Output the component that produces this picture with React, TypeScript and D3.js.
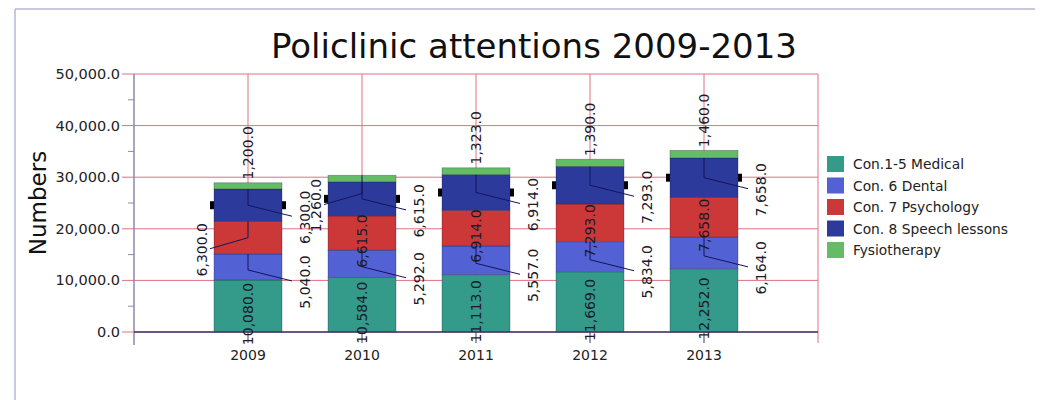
import React from 'react';
import * as d3 from 'd3';

const years = ['2009', '2010', '2011', '2012', '2013'];
const seriesNames = ['Con.1-5 Medical', 'Con. 6 Dental', 'Con. 7 Psychology', 'Con. 8 Speech lessons', 'Fysiotherapy'];
const medical = [10080, 10584, 11113, 11669, 12252];
const dental = [5040, 5292, 5557, 5834, 6164];
const psychology = [6300, 6615, 6914, 7293, 7658];
const speech = [6300, 6615, 6914, 7293, 7658];
const fysio = [1200, 1260, 1323, 1390, 1460];
const yTicks = [0, 10000, 20000, 30000, 40000, 50000];
const yMinorTicks = [5000, 15000, 25000, 35000, 45000];
const colors = ['#349a8a', '#5262d4', '#cc3838', '#2c3a9c', '#64bc64'];

// label placement per year, per series (bottom -> top)
const labelSides = [
  ['center', 'right', 'left', 'right', 'top'],
  ['center', 'right', 'center', 'right', 'left'],
  ['center', 'right', 'center', 'right', 'top'],
  ['center', 'right', 'center', 'right', 'top'],
  ['center', 'right', 'center', 'right', 'top'],
];
const kneeShift = [
  [0, 3, 0, 0, 0],
  [0, 3, 0, 0, 15],
  [0, 3, 0, 0, 0],
  [0, 3, 0, 0, 0],
  [0, 3, 0, 0, 0],
];

const series = [medical, dental, psychology, speech, fysio];

export default function App() {
  const W = 1045, H = 400;
  const left = 134, right = 818, top = 74, bottom = 332;
  const x = d3.scaleLinear().domain([0, years.length + 1]).range([left, right]);
  const y = d3.scaleLinear().domain([0, 50000]).range([bottom, top]);
  const barW = 68;
  const fmt = d3.format(',.1f');
  const font = 'DejaVu Sans, Verdana, sans-serif';
  const grid = '#e07080';
  const axisCol = '#8a8aac';
  const leader = '#14145a';

  const table = years.map((yr, i) => {
    const obj: any = { year: yr };
    seriesNames.forEach((s, j) => (obj[s] = series[j][i]));
    return obj;
  });
  const stacked = d3.stack().keys(seriesNames)(table);

  const elems: any[] = [];
  const labels: any[] = [];
  const markers: any[] = [];

  years.forEach((yr, i) => {
    const cx = x(i + 1);
    const barTop = y(stacked[stacked.length - 1][i][1]);
    stacked.forEach((layer, j) => {
      const d = layer[i];
      const y0 = y(d[0]);
      const y1 = y(d[1]);
      elems.push(
        <rect key={`b${i}-${j}`} x={cx - barW / 2} y={y1} width={barW} height={y0 - y1}
          fill={colors[j]} stroke="rgba(20,20,60,0.35)" strokeWidth={0.8} />
      );
      const mid = (y0 + y1) / 2;
      const side = labelSides[i][j];
      const text = fmt(d[1] - d[0]);
      if (side === 'center') {
        labels.push(
          <text key={`l${i}-${j}`} transform={`translate(${cx},${mid + 8}) rotate(-90)`}
            textAnchor="middle" dominantBaseline="central" fontSize={14} fill="#1a1a2a" fontFamily={font}>{text}</text>
        );
      } else if (side === 'top') {
        labels.push(
          <text key={`l${i}-${j}`} transform={`translate(${cx},${barTop - 30}) rotate(-90)`}
            textAnchor="middle" dominantBaseline="central" fontSize={14} fill="#1a1a2a" fontFamily={font}>{text}</text>
        );
      } else {
        const knee = mid + kneeShift[i][j];
        const dir = side === 'right' ? 1 : -1;
        const ex = cx + dir * (side === 'right' ? 44 : 38);
        const ey = knee + 11;
        elems.push(
          <polyline key={`k${i}-${j}`} points={`${cx},${y1} ${cx},${knee} ${ex},${ey}`}
            fill="none" stroke={leader} strokeWidth={1} />
        );
        labels.push(
          <text key={`l${i}-${j}`} transform={`translate(${cx + dir * (side === 'right' ? 57 : 46)},${knee + 12}) rotate(-90)`}
            textAnchor="middle" dominantBaseline="central" fontSize={14} fill="#1a1a2a" fontFamily={font}>{text}</text>
        );
      }
    });
    const sp = stacked[3][i];
    const sm = (y(sp[0]) + y(sp[1])) / 2;
    markers.push(<rect key={`ml${i}`} x={cx - barW / 2 - 4} y={sm - 4} width={4} height={8} fill="#000" />);
    markers.push(<rect key={`mr${i}`} x={cx + barW / 2} y={sm - 4} width={4} height={8} fill="#000" />);
  });

  return (
    <svg width={W} height={H} style={{ position: 'absolute', left: 0, top: 0, background: '#fff' }}>
      <rect x={0} y={0} width={W} height={H} fill="#fff" />
      <line x1={15} y1={9} x2={1035} y2={9} stroke="#b4b8d4" strokeWidth={1.5} />
      <line x1={15} y1={9} x2={15} y2={H} stroke="#b4b8d4" strokeWidth={1.5} />

      <text x={534} y={58} textAnchor="middle" fontSize={34} fontFamily={font} fill="#111">
        Policlinic attentions 2009-2013
      </text>

      {yTicks.map((t) => (
        <line key={`g${t}`} x1={left - 12} x2={right} y1={y(t)} y2={y(t)} stroke={grid} strokeWidth={1} />
      ))}
      {yMinorTicks.map((t) => (
        <line key={`m${t}`} x1={left - 6} x2={left} y1={y(t)} y2={y(t)} stroke={axisCol} strokeWidth={1} />
      ))}
      {years.map((yr, i) => (
        <line key={`v${yr}`} x1={x(i + 1)} x2={x(i + 1)} y1={top} y2={bottom} stroke={grid} strokeWidth={1} />
      ))}
      <line x1={right} x2={right} y1={top} y2={bottom + 11} stroke={grid} strokeWidth={1} />
      <line x1={left} x2={left} y1={top} y2={bottom + 13} stroke={axisCol} strokeWidth={1.5} />

      {elems}
      {markers}
      <line x1={left} x2={right} y1={bottom} y2={bottom} stroke="#3a3a6a" strokeWidth={1.5} />
      {years.map((yr, i) => (
        <line key={`xt${yr}`} x1={x(i + 1)} x2={x(i + 1)} y1={bottom} y2={bottom + 11} stroke="#3a3a6a" strokeWidth={1} />
      ))}
      {labels}

      {yTicks.map((t) => (
        <text key={`yt${t}`} x={120} y={y(t)} textAnchor="end" dominantBaseline="central" fontSize={14.5}
          fontFamily={font} fill="#222">{fmt(t)}</text>
      ))}
      {years.map((yr, i) => (
        <text key={`xl${yr}`} x={x(i + 1)} y={360} textAnchor="middle" fontSize={14} fontFamily={font} fill="#222">{yr}</text>
      ))}
      <text transform={`translate(38,203) rotate(-90)`} textAnchor="middle" dominantBaseline="central"
        fontSize={23} fontFamily={font} fill="#111">Numbers</text>

      {seriesNames.map((s, j) => (
        <g key={`lg${j}`} transform={`translate(827,${156 + j * 21.5})`}>
          <rect x={0} y={0} width={17} height={16} fill={colors[j]} />
          <text x={26} y={8} dominantBaseline="central" fontSize={13.8} fontFamily={font} fill="#222">{s}</text>
        </g>
      ))}
    </svg>
  );
}
